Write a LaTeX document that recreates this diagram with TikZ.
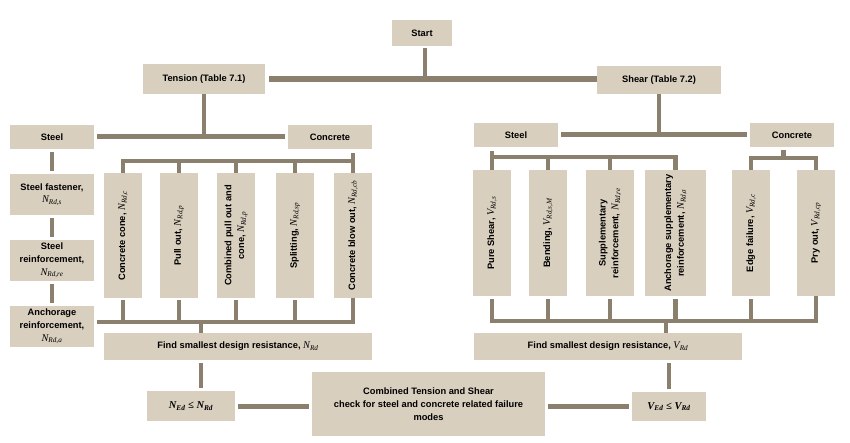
\documentclass[tikz,border=0pt]{standalone}
\usepackage{fontspec}
\setmainfont{Liberation Sans}
\newfontfamily\tms{Liberation Serif}
\usetikzlibrary{calc}
\definecolor{boxc}{RGB}{216,207,190}
\definecolor{linec}{RGB}{139,128,110}
\newcommand\sym[2]{{\tms\mdseries\itshape\fontsize{10.3}{12.5}\selectfont #1\textsubscript{#2}}}
\begin{document}
\begin{tikzpicture}[x=1pt,y=-1pt,
  box/.style={fill=boxc, inner sep=1pt, align=center, text=black,
    font=\bfseries\fontsize{9.3}{12.8}\selectfont},
  vbox/.style={box, rotate=90},
  conn/.style={draw=linec, line width=4.5pt},
  mainline/.style={draw=linec, line width=6pt},
  gap/.style={shorten <=3pt, shorten >=3pt}]
\useasboundingbox (0,0) rectangle (850,443);

% top
\node[box, minimum width=60pt, minimum height=26pt] (start) at (422,33) {Start};
\node[box, minimum width=122pt, minimum height=30pt] (tension) at (204,79) {Tension (Table 7.1)};
\node[box, minimum width=124pt, minimum height=28pt] (shear) at (659,80) {Shear (Table 7.2)};

% tension level 2
\node[box, minimum width=84pt, minimum height=24pt] (steelL) at (52,137) {Steel};
\node[box, minimum width=84pt, minimum height=24pt] (concL) at (330,137) {Concrete};
\node[box, minimum width=84pt, minimum height=41pt] (sf) at (52,194.5) {Steel fastener,\\\sym{N}{Rd,s}};
\node[box, minimum width=84pt, minimum height=41pt] (sr) at (52,260.5) {Steel\\reinforcement,\\\sym{N}{Rd,re}};
\node[box, minimum width=84pt, minimum height=41pt] (ar) at (52,326.5) {Anchorage\\reinforcement,\\\sym{N}{Rd,a}};

\node[vbox, minimum width=125pt, minimum height=38pt] (cc) at (123,235.5) {Concrete cone, \sym{N}{Rd,c}};
\node[vbox, minimum width=125pt, minimum height=38pt] (po) at (179,235.5) {Pull out, \sym{N}{Rd,p}};
\node[vbox, minimum width=125pt, minimum height=38pt] (cpo) at (236,235.5) {Combined pull out and\\cone, \sym{N}{Rd,p}};
\node[vbox, minimum width=125pt, minimum height=38pt] (sp) at (295,235.5) {Splitting, \sym{N}{Rd,sp}};
\node[vbox, minimum width=125pt, minimum height=38pt] (cbo) at (353,235.5) {Concrete blow out, \sym{N}{Rd,cb}};

\node[box, minimum width=268pt, minimum height=27pt] (findN) at (238,346.5) {Find smallest design resistance, \sym{N}{Rd}};

% shear level 2
\node[box, minimum width=84pt, minimum height=24pt] (steelR) at (516,135) {Steel};
\node[box, minimum width=84pt, minimum height=24pt] (concR) at (792,135) {Concrete};

\node[vbox, minimum width=126pt, minimum height=38pt] (ps) at (492,233) {Pure Shear, \sym{V}{Rd,s}};
\node[vbox, minimum width=126pt, minimum height=38pt] (bd) at (548,233) {Bending, \sym{V}{Rd,s,M}};
\node[vbox, minimum width=126pt, minimum height=48pt] (supp) at (610,233) {Supplementary\\reinforcement, \sym{N}{Rd,re}};
\node[vbox, minimum width=126pt, minimum height=61pt] (asupp) at (675.5,233) {Anchorage supplementary\\reinforcement, \sym{N}{Rd,a}};
\node[vbox, minimum width=126pt, minimum height=38pt] (ef) at (751,233) {Edge failure, \sym{V}{Rd,c}};
\node[vbox, minimum width=126pt, minimum height=38pt] (pry) at (816,233) {Pry out, \sym{V}{Rd,cp}};

\node[box, minimum width=268pt, minimum height=27pt] (findV) at (608,346.5) {Find smallest design resistance, \sym{V}{Rd}};

% bottom
\node[box, minimum width=88pt, minimum height=30pt] (nEd) at (191,406) {\tms\bfseries\itshape\fontsize{10.5}{12}\selectfont N\textsubscript{Ed} ≤ N\textsubscript{Rd}};
\node[box, minimum width=233pt, minimum height=64pt] (comb) at (428.5,404) {Combined Tension and Shear\\check for steel and concrete related failure\\modes};
\node[box, minimum width=74pt, minimum height=29pt] (vEd) at (669,406.5) {\tms\bfseries\itshape\fontsize{10.5}{12}\selectfont V\textsubscript{Ed} ≤ V\textsubscript{Rd}};

% helper coordinates
\coordinate (cbL) at (0,161);
\coordinate (barL) at (0,322);
\coordinate (sbR) at (0,157);
\coordinate (cbR) at (0,158);
\coordinate (barR) at (0,321);
\coordinate (fnx) at (201,0);
\coordinate (fvx) at (666,0);
\coordinate (stx) at (425,0);

% connectors: top
\draw[mainline, shorten <=4pt] (tension.east) -- (tension.east -| shear.west);
\draw[conn, line width=3.5pt, shorten <=2pt] (start.south -| stx) -- (stx |- tension.east);
\draw[conn] (tension.south) -- (tension.south |- steelL.east);
\draw[conn] (shear.south) -- (shear.south |- steelR.east);
\draw[conn, line width=5pt, gap] (steelL.east) -- (concL.west);
\draw[conn, line width=5pt, gap] (steelR.east) -- (steelR.east -| concR.west);

% tension steel column
\draw[conn, gap] (steelL.south) -- (sf.north);
\draw[conn, gap] (sf.south) -- (sr.north);
\draw[conn, gap] (sr.south) -- (ar.north);

% tension concrete bracket
\draw[conn, shorten <=4pt] (concL.south -| cbo.east) -- (cbo.east |- cbL);
\draw[conn, miter limit=2] (cc.east) -- (cc.east |- cbL) -- (cbo.east |- cbL) -- (cbo.east);
\foreach \n in {po,cpo,sp} \draw[conn] (\n.east) -- (\n.east |- cbL);

% tension bottom bar
\draw[conn, shorten <=3pt] (ar.east |- barL) -- (cbo.west |- barL) -- (cbo.west);
\foreach \n in {cc,po,cpo,sp} \draw[conn, shorten <=2pt] (\n.west) -- (\n.west |- barL);
\draw[conn] (fnx |- barL) -- (fnx |- findN.north);

% shear steel bracket
\draw[conn, shorten <=4pt] (steelR.south -| ps.east) -- (ps.east |- sbR);
\draw[conn] (ps.east) -- (ps.east |- sbR) -- (asupp.east |- sbR) -- (asupp.east);
\foreach \n in {bd,supp} \draw[conn] (\n.east) -- (\n.east |- sbR);

% shear concrete bracket
\coordinate (cstem) at ($(ef.east)!0.5!(pry.east)$);
\draw[conn, shorten <=3pt] (concR.south -| cstem) -- (cstem |- cbR);
\draw[conn] (ef.east) -- (ef.east |- cbR) -- (pry.east |- cbR) -- (pry.east);

% shear bottom bar
\draw[conn, shorten <=3pt] (ps.west) -- (ps.west |- barR) -- (pry.west |- barR) -- (pry.west);
\foreach \n in {bd,supp,asupp,ef} \draw[conn, shorten <=3pt] (\n.west) -- (\n.west |- barR);
\draw[conn] (fvx |- barR) -- (fvx |- findV.north);

% bottom connectors
\draw[conn, gap] (findN.south -| fnx) -- (nEd.north -| fnx);
\draw[conn, gap] (findV.south -| vEd.north) -- (vEd.north);
\draw[conn, line width=5pt, gap] (nEd.east) -- (nEd.east -| comb.west);
\draw[conn, line width=5pt, gap] (comb.east |- vEd.west) -- (vEd.west);
\end{tikzpicture}
\end{document}
